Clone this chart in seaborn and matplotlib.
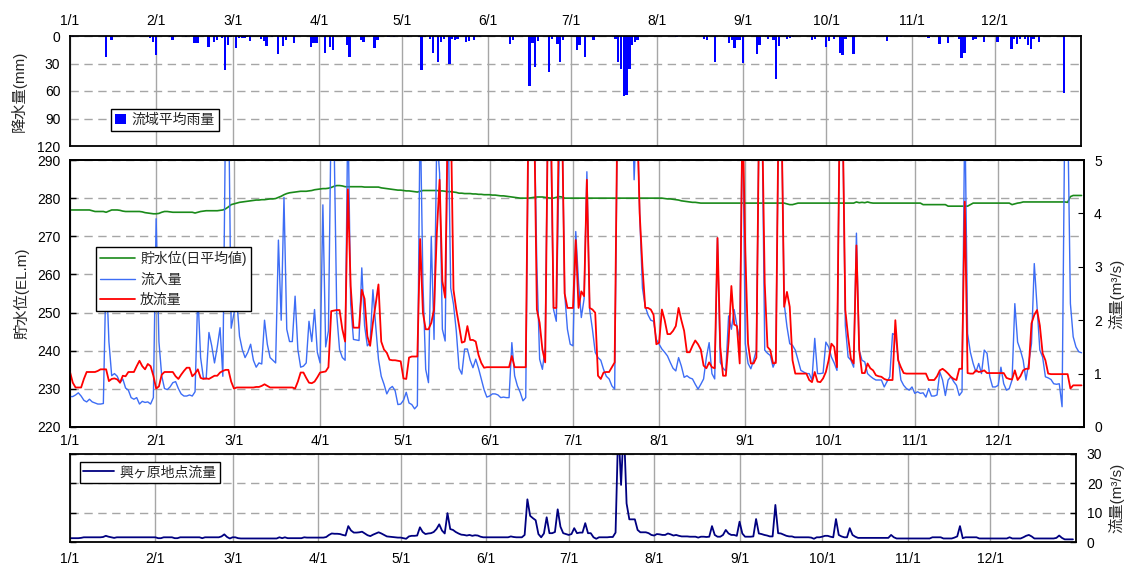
import numpy as np
import pandas as pd
import matplotlib
matplotlib.use("Agg")
import matplotlib.pyplot as plt
import seaborn as sns

sns.set_style("white")
plt.rcParams['font.family'] = ['Liberation Sans', 'Noto Sans CJK JP', 'DejaVu Sans']
plt.rcParams['axes.unicode_minus'] = False

# ---------------- data ----------------
month_starts = [0, 31, 59, 90, 120, 151, 181, 212, 243, 273, 304, 334]
month_labels = ["1/1", "2/1", "3/1", "4/1", "5/1", "6/1", "7/1", "8/1", "9/1", "10/1", "11/1", "12/1"]

# basin average rainfall (mm): day index (0 = 1/1) and amount
rain_days = [1, 13, 15, 29, 30, 31, 36, 37, 42, 45, 46, 50, 52, 53, 55, 56, 57, 58, 60, 61, 62, 63, 64, 65,
             69, 70, 71, 73, 75, 77, 78, 81, 87, 88, 89, 92, 94, 95, 100, 101, 105, 106, 110, 111, 115, 117,
             122, 126, 127, 128, 130, 131, 133, 134, 135, 137, 138, 139, 140, 143, 144, 146, 148, 159, 160,
             166, 167, 168, 169, 173, 174, 176, 177, 178, 183, 184, 186, 187, 189, 197, 198, 199, 200, 201,
             202, 203, 204, 205, 219, 229, 230, 233, 238, 239, 240, 241, 242, 243, 248, 249, 252, 254, 255,
             256, 259, 260, 261, 268, 269, 273, 274, 276, 278, 279, 280, 283, 295, 300, 310, 314, 317, 321,
             322, 323, 326, 327, 330, 335, 340, 341, 342, 343, 345, 346, 347, 348, 350, 359]
rain_mm = [1.5, 23, 4, 2.5, 7, 21, 1.5, 4, 1.5, 8, 8, 12, 7, 4, 2, 37, 10, 1.5, 13, 2, 2, 2, 1, 5,
           3, 5, 11, 1.5, 20, 11, 4, 8, 12, 8, 8, 19, 12, 15, 10, 23, 4, 6, 13, 4, 1.5, 1.5,
           1.5, 1.5, 37, 1.5, 3, 18, 28, 7, 3, 31, 3, 4, 3, 6, 5, 4, 1.5, 9, 4,
           54, 8, 34, 5, 39, 3, 9, 28, 4, 15, 10, 23, 1.5, 4, 3, 28, 36, 65, 64,
           36, 10, 6, 4, 1.5, 3, 4, 28, 8, 4, 13, 4, 4, 29, 20, 10, 3, 4, 47,
           11, 3, 2, 1.5, 4, 3, 12, 5, 3, 18, 21, 3, 20, 5, 1.5, 2, 9, 8, 3,
           24, 18, 4, 3, 7, 6, 14, 3, 9, 3, 3, 10, 14, 3, 6, 62]

nan = np.nan
# reservoir water level, daily mean (EL.m)
water_level = [
    276.9, 276.9, 276.9, 276.9, 276.9, 276.9, 276.9, 276.9, 276.7, 276.5, 276.5, 276.5, 276.5, 276.3, 276.6, 276.9,
    276.9, 276.9, 276.8, 276.6, 276.5, 276.5, 276.5, 276.5, 276.5, 276.5, 276.4, 276.2, 276.1, 276.0, 275.9,
    275.9, 276.0, 276.3, 276.5, 276.5, 276.4, 276.3, 276.3, 276.3, 276.3, 276.3, 276.3, 276.3, 276.3, 276.1, 276.3,
    276.5, 276.6, 276.7, 276.7, 276.7, 276.7, 276.7, 276.8, 276.9, 277.2, 277.7, 278.3,
    nan, 278.7, 278.9, 279.0, 279.1, 279.2, 279.3, 279.4, 279.5, 279.5, 279.6, 279.6, 279.7, 279.8, 279.8, 279.9,
    280.2, 280.5, 280.9, 281.2, 281.4, 281.5, 281.6, 281.7, 281.8, 281.8, 281.8, 281.9, 282.0, 282.2, 282.3,
    282.4, 282.5, 282.5, 282.6, 282.8, 283.1, 283.3, 283.3, 283.2, 283.0, 283.0, 283.0, 283.0, 283.0, 283.0,
    283.0, 282.9, 282.9, 282.9, 282.9, 282.9, 282.9, 282.7, 282.6, 282.5, 282.4, 282.3, 282.2, 282.1, 282.1,
    282.0, 281.9, 281.9, 281.8, 281.7, 281.6, 281.8, 282.0, 282.0, 282.0, 282.0, 282.0, 282.0, 281.9, 281.9, 281.8,
    281.7, 281.7, 281.6, 281.5, 281.3, 281.3, 281.2, 281.2, 281.2, 281.1, 281.1, 281.0, 281.0, 280.9, 280.9,
    280.9, 280.8, 280.8, 280.7, 280.6, 280.6, 280.5, 280.4, 280.3, 280.2, 280.1, 280.0, 280.0, 280.0, 280.0,
    280.1, 280.2, 280.3, 280.3, 280.3, 280.2, 280.1, 280.0, 280.0, 280.2, 280.4, 280.3, 280.0, 280.0, 280.0,
    280.0, 280.0, 280.0, 280.0, 280.0, 280.0, 280.0, 280.0, 280.0, 280.0, 280.0, 280.0, 280.0, 280.0, 280.0, 280.0,
    280.0, 280.0, 280.0, 280.0, 280.0, 280.0, 280.0, 280.0, 280.0, 280.0, 280.0, 280.0, 280.0, 280.0, 280.0,
    280.0, 280.0, 279.9, 279.8, 279.8, 279.7, 279.6, 279.5, 279.3, 279.2, 279.1, 279.0, 278.9, 278.9, 278.8, 278.7,
    278.7, 278.7, 278.7, 278.7, 278.7, 278.7, 278.7, 278.7, 278.7, 278.7, 278.7, 278.7, 278.7, 278.7, 278.7,
    278.7, 278.7, 278.7, 278.7, 278.7, 278.7, 278.7, 278.7, 278.7, 278.7, 278.7, 278.7, 278.7, 278.7, 278.7,
    278.5, 278.3, 278.3, 278.5, 278.7, 278.7, 278.7, 278.7, 278.7, 278.7, 278.7, 278.7, 278.7, 278.7, 278.7,
    278.7, 278.7, 278.7, 278.7, 278.7, 278.7, 278.7, 278.7, 278.7, 278.7, 279.0, 278.8, 278.9, 278.8, 279.0, 278.8,
    278.7, 278.7, 278.7, 278.7, 278.7, 278.7, 278.7, 278.7, 278.7, 278.7, 278.7, 278.7, 278.7, 278.7, 278.7,
    278.7, 278.7, 278.7, 278.3, 278.3, 278.3, 278.3, 278.3, 278.3, 278.3, 278.3, 278.3, 277.9, 277.9, 277.9,
    277.9, 277.9, 277.9, 277.9, 277.9, 278.3, 278.7, 278.7, 278.7, 278.7, 278.7, 278.7, 278.7, 278.7, 278.7,
    278.7, 278.7, 278.7, 278.7, 278.7, 278.3, 278.5, 278.7, 278.8, 279.0, 279.0, 279.0, 279.0, 279.0, 279.0,
    279.0, 279.0, 279.0, 279.0, 279.0, 279.0, 279.0, 279.0, 279.0, 279.0, 278.9, 280.4, 280.7, 280.7, 280.7, 280.7,
]

# inflow (m3/s)
inflow = [
    0.57, 0.57, 0.60, 0.64, 0.58, 0.50, 0.47, 0.52, 0.47, 0.45, 0.43, 0.43, 0.44, 3.00, 1.60, 0.96,
    1.00, 0.95, 0.83, 0.90, 0.73, 0.69, 0.55, 0.52, 0.55, 0.43, 0.48, 0.46, 0.47, 0.43, 0.55,
    3.90, 1.60, 0.96, 0.72, 0.70, 0.75, 0.83, 0.85, 0.72, 0.62, 0.58, 0.58, 0.60, 0.58, 0.66, 2.50,
    1.30, 0.92, 0.90, 1.77, 1.52, 1.20, 1.50, 1.86, 0.95, 6.00, 6.50, 1.85,
    nan, 2.40, 1.70, 1.45, 1.30, 1.40, 1.55, 1.25, 1.12, 1.20, 1.18, 2.00, 1.55, 1.30, 1.25, 1.20,
    3.50, 2.00, 4.30, 1.83, 1.60, 1.60, 2.45, 1.45, 1.12, 1.14, 1.20, 1.98, 1.60, 2.20, 1.40,
    1.20, 4.16, 1.50, 1.80, 6.00, 5.50, 2.10, 1.45, 1.30, 1.25, 6.00, 2.30, 1.64, 1.63, 1.62,
    2.98, 1.90, 1.52, 1.58, 2.57, 1.90, 1.27, 0.95, 0.80, 0.62, 0.72, 0.76, 0.68, 0.42, 0.43,
    0.50, 0.65, 0.45, 0.42, 0.34, 0.40, 6.00, 2.70, 1.08, 0.83, 3.57, 1.64, 5.50, 4.75, 1.83, 1.61,
    6.00, 2.60, 2.30, 1.80, 1.10, 0.99, 1.46, 1.46, 1.25, 1.11, 1.27, 1.10, 0.90, 0.70, 0.56,
    0.58, 0.62, 0.62, 0.60, 0.55, 0.56, 0.55, 0.55, 1.58, 0.96, 0.77, 0.65, 0.49, 0.55, 6.00,
    7.00, 6.00, 3.00, 1.27, 1.08, 1.50, 6.00, 5.50, 2.20, 1.98, 5.00, 6.00, 2.51, 1.83, 1.55,
    1.52, 3.66, 2.70, 2.05, 2.40, 4.78, 2.20, 1.83, 1.40, 1.30, 1.25, 1.08, 0.95, 0.90, 0.77, 0.71,
    6.00, 7.00, 8.00, 8.00, 8.00, 7.00, 4.63, 6.00, 4.00, 2.60, 2.26, 2.10, 2.00, 1.98, 1.64,
    1.55, 1.46, 1.40, 1.33, 1.21, 1.10, 1.05, 1.30, 1.14, 0.93, 0.96, 0.92, 0.90, 0.80, 0.71, 0.80,
    0.90, 1.30, 1.58, 1.00, 0.90, 3.54, 1.21, 1.10, 1.05, 2.08, 1.83, 2.20, 1.89, 1.64, 6.00,
    1.56, 1.19, 1.09, 1.25, 1.44, 6.00, 6.00, 1.44, 1.38, 1.34, 1.12, 1.25, 6.00, 6.00, 2.31,
    1.88, 1.56, 1.53, 1.44, 1.25, 1.06, 1.03, 1.00, 1.00, 0.88, 1.66, 1.00, 1.00, 1.01, 1.59,
    1.50, 1.31, 1.20, 1.06, 6.00, 6.00, 1.90, 1.31, 1.25, 1.12, 3.63, 1.44, 1.25, 1.22, 1.00, 0.95,
    0.91, 0.88, 0.88, 0.88, 0.75, 0.85, 0.94, 1.75, 1.72, 1.31, 0.88, 0.78, 0.72, 0.69, 0.75,
    0.63, 0.66, 0.63, 0.64, 0.56, 0.72, 0.58, 0.58, 0.60, 1.03, 0.88, 0.59, 0.88, 0.94, 0.85,
    0.78, 0.59, 0.66, 6.00, 1.75, 1.40, 1.19, 1.03, 1.19, 1.00, 1.44, 1.38, 0.94, 0.75, 0.75,
    0.78, 1.12, 0.81, 0.69, 0.72, 0.88, 2.31, 1.59, 1.44, 1.25, 0.88, 1.20, 1.56, 3.06, 2.25, 1.44,
    1.31, 0.94, 0.92, 0.89, 0.81, 0.80, 0.81, 0.38, 6.00, 6.00, 2.31, 1.69, 1.50, 1.41, 1.39,
]

# release discharge (m3/s)
outflow = [
    1.03, 0.83, 0.74, 0.74, 0.74, 0.90, 1.03, 1.03, 1.03, 1.03, 1.05, 1.08, 1.08, 1.08, 0.86, 0.90,
    0.91, 0.89, 0.83, 0.96, 0.95, 1.03, 1.03, 1.03, 1.14, 1.24, 1.14, 1.08, 1.18, 1.14, 0.96,
    0.72, 0.76, 0.98, 1.03, 1.03, 1.03, 1.03, 0.95, 0.90, 0.98, 1.05, 1.11, 1.11, 0.95, 1.00, 1.08,
    0.92, 0.90, 0.91, 0.90, 0.93, 0.96, 0.96, 1.02, 1.05, 1.07, 1.07, 0.85,
    0.72, 0.74, 0.74, 0.74, 0.74, 0.74, 0.74, 0.74, 0.75, 0.75, 0.77, 0.80, 0.77, 0.74, 0.74, 0.74,
    0.74, 0.74, 0.74, 0.74, 0.74, 0.74, 0.72, 0.85, 1.02, 1.02, 0.92, 0.83, 0.82, 0.85, 0.93,
    1.02, 1.03, 1.04, 1.12, 2.17, 2.18, 2.19, 2.19, 1.83, 1.60, 4.45, 2.64, 1.86, 1.86, 1.86,
    2.57, 2.40, 1.70, 1.52, 1.95, 2.30, 2.67, 1.60, 1.45, 1.39, 1.26, 1.25, 1.25, 1.24, 1.23,
    0.91, 0.90, 1.30, 1.32, 1.32, 1.32, 3.52, 2.14, 1.83, 1.83, 1.95, 2.20, 3.63, 4.63, 2.73, 2.42,
    6.00, 6.00, 2.57, 2.20, 1.90, 1.58, 1.60, 1.89, 1.63, 1.63, 1.60, 1.35, 1.20, 1.11, 1.12,
    1.12, 1.12, 1.12, 1.12, 1.12, 1.12, 1.12, 1.12, 1.33, 1.12, 1.12, 1.12, 1.12, 1.12, 6.00,
    7.00, 6.00, 2.20, 1.95, 1.45, 1.21, 6.00, 6.00, 2.23, 2.23, 6.00, 6.00, 2.50, 2.23, 2.23,
    2.23, 3.50, 2.23, 2.54, 2.45, 4.63, 2.23, 2.20, 2.14, 0.96, 0.90, 1.02, 1.03, 1.03, 1.12, 1.21,
    6.00, 7.00, 8.00, 8.00, 8.00, 7.00, 6.00, 6.00, 4.00, 3.00, 2.23, 2.23, 2.20, 2.10, 1.55,
    1.58, 2.20, 2.00, 1.74, 1.74, 1.80, 1.89, 2.23, 2.00, 1.80, 1.40, 1.40, 1.52, 1.62, 1.55, 1.45,
    1.15, 1.10, 1.21, 1.12, 1.10, 3.54, 1.50, 0.96, 0.96, 1.60, 2.64, 1.92, 1.89, 1.19, 6.00,
    3.30, 1.56, 1.19, 1.19, 1.30, 6.00, 6.00, 2.69, 1.50, 1.44, 1.19, 1.20, 6.00, 6.00, 2.25,
    2.53, 2.25, 1.25, 1.00, 1.00, 1.00, 1.00, 1.00, 0.88, 0.84, 1.03, 0.85, 0.84, 0.91, 1.03,
    1.25, 1.56, 1.50, 1.12, 6.00, 6.00, 2.19, 1.69, 1.28, 1.19, 3.40, 1.44, 1.01, 1.01, 1.19, 1.10,
    1.06, 0.97, 0.95, 0.94, 0.90, 0.88, 0.88, 0.88, 2.00, 1.25, 1.12, 1.01, 1.00, 1.00, 1.00,
    1.00, 1.00, 1.00, 1.00, 1.00, 0.88, 0.88, 0.88, 0.95, 1.06, 1.09, 1.05, 1.00, 0.94, 0.90,
    0.88, 1.09, 1.09, 4.22, 1.01, 1.00, 1.00, 1.06, 1.03, 1.04, 1.06, 1.01, 1.01, 1.01, 1.01,
    1.01, 1.01, 1.01, 0.92, 0.90, 0.89, 1.06, 0.88, 0.95, 1.06, 1.09, 1.09, 1.94, 2.10, 2.19, 1.90,
    1.38, 1.25, 1.00, 0.99, 0.99, 0.99, 0.99, 0.99, 0.99, 0.99, 0.72, 0.78, 0.78, 0.78, 0.78,
]

# discharge at Okigahara gauge (m3/s)
okigahara = [
    1.4, 1.4, 1.4, 1.4, 1.5, 1.7, 1.7, 1.7, 1.7, 1.7, 1.7, 1.7, 1.8, 2.2, 1.9, 1.7,
    1.5, 1.7, 1.7, 1.7, 1.7, 1.7, 1.7, 1.7, 1.7, 1.7, 1.7, 1.7, 1.7, 1.7, 1.7,
    1.7, 1.4, 1.4, 1.7, 1.7, 1.7, 1.7, 1.4, 1.4, 1.7, 1.7, 1.7, 1.7, 1.7,
    1.7, 1.7, 1.7, 1.4, 1.7, 1.7, 1.7, 1.7, 1.7, 1.7, 2.0, 2.7, 1.8, 1.3,
    1.7, 1.7, 1.4, 1.3, 1.3, 1.3, 1.3, 1.3, 1.3, 1.3, 1.3, 1.3, 1.3, 1.3, 1.3, 1.3,
    1.3, 1.7, 1.4, 1.7, 1.4, 1.4, 1.4, 1.4, 1.4, 1.4, 1.7, 1.6, 1.6, 1.6, 1.6,
    1.6, 1.6, 1.6, 1.8, 2.5, 3.0, 2.9, 2.9, 2.8, 2.5, 2.3, 5.5, 4.0, 3.3, 3.3,
    3.4, 3.6, 3.0, 2.4, 2.1, 2.6, 3.0, 3.4, 3.0, 2.5, 2.0, 1.9, 1.8, 1.7, 1.6,
    1.6, 1.4, 1.2, 2.0, 2.2, 2.2, 2.3, 5.1, 3.5, 2.8, 3.0, 3.1, 3.5, 4.5, 6.1, 4.0,
    3.0, 9.9, 4.5, 4.2, 3.5, 3.0, 2.6, 2.5, 2.3, 2.5, 2.2, 2.4, 2.3, 1.9, 1.7,
    1.7, 1.7, 1.7, 1.7, 1.7, 1.7, 1.7, 1.7, 1.7, 2.0, 1.8, 1.7, 1.7, 1.7, 2.5,
    14.6, 9.0, 8.2, 7.5, 2.8, 1.7, 3.0, 8.5, 3.1, 3.1, 3.5, 11.2, 5.3, 3.1, 2.8,
    2.5, 2.8, 4.8, 3.1, 3.3, 3.3, 6.5, 3.1, 3.1, 1.7, 1.2, 1.7, 1.7, 1.7, 1.7, 1.8,
    1.8, 3.3, 40.0, 19.5, 40.0, 13.2, 7.8, 7.8, 7.8, 4.2, 3.4, 3.4, 3.4, 3.1, 2.5,
    2.3, 2.8, 2.7, 2.5, 2.5, 3.0, 2.7, 2.3, 2.5, 2.2, 2.0, 2.0, 2.0, 1.9, 1.9, 1.9,
    1.6, 1.9, 1.9, 1.8, 1.9, 5.5, 2.5, 1.9, 1.9, 2.5, 4.2, 3.0, 2.5, 2.5, 2.2,
    7.0, 3.0, 1.9, 1.9, 1.9, 2.0, 7.9, 3.0, 2.8, 2.5, 2.3, 2.0, 2.0, 12.7, 3.1,
    3.0, 2.6, 2.2, 2.0, 2.0, 1.7, 1.7, 1.7, 1.7, 1.7, 1.7, 1.6, 1.2, 1.7, 1.7,
    1.9, 2.2, 2.2, 1.9, 1.7, 7.9, 2.5, 2.0, 1.7, 1.7, 4.8, 2.5, 1.9, 1.5, 1.5, 1.5,
    1.5, 1.5, 1.5, 1.5, 1.5, 1.5, 1.5, 1.5, 1.5, 2.5, 1.7, 1.3, 1.3, 1.3, 1.3,
    1.3, 1.3, 1.3, 1.3, 1.3, 1.3, 1.3, 1.3, 1.3, 1.7, 1.7, 1.7, 1.7, 1.3, 1.3,
    1.3, 1.3, 1.6, 2.0, 5.5, 1.4, 1.7, 1.7, 1.7, 1.7, 1.7, 1.3, 1.3, 1.3, 1.3,
    1.3, 1.3, 1.3, 1.3, 1.3, 1.3, 1.3, 1.7, 1.3, 1.3, 1.3, 1.3, 1.7, 2.2, 2.5, 2.0,
    1.3, 1.3, 1.3, 1.3, 1.3, 1.3, 1.3, 1.3, 1.5, 2.3, 1.5, 1.0, 1.0, 1.0, 1.0,
]

n_days = 365
days = np.arange(n_days)
rain = np.zeros(n_days)
rain[rain_days] = rain_mm

df = pd.DataFrame({"day": days, "rain": rain, "wl": water_level, "inflow": inflow,
                   "outflow": outflow, "oki": okigahara})

# ---------------- styling helpers ----------------
GRID = "#a6a6a6"
FS = 10
LFS = 11


def style_common(ax):
    ax.set_xlim(0, n_days)
    ax.set_xticks(month_starts)
    ax.set_xticklabels(month_labels)
    ax.grid(True, axis="x", color=GRID, linewidth=1.0, linestyle="-")
    ax.grid(True, axis="y", color=GRID, linewidth=1.0, linestyle=(0, (6, 4)))
    ax.set_axisbelow(True)
    for s in ax.spines.values():
        s.set_color("black")
        s.set_linewidth(1.3)
    ax.tick_params(axis="both", which="both", direction="in", length=4, labelsize=FS,
                   colors="black", width=1)
    ax.set_xlabel("")


fig = plt.figure(figsize=(11.3, 5.7), dpi=100)

# ---------------- top: rainfall ----------------
ax_r = fig.add_axes([70 / 1130, (570 - 146) / 570, 1010.7 / 1130, 110 / 570])
sns.barplot(data=df, x="day", y="rain", native_scale=True, orient="x", color="#0000ff",
            saturation=1, width=0.85, errorbar=None, linewidth=0, ax=ax_r, label="流域平均雨量")
style_common(ax_r)
ax_r.set_ylim(120, 0)
ax_r.set_yticks([0, 30, 60, 90, 120])
ax_r.xaxis.tick_top()
ax_r.tick_params(axis="x", pad=6, length=0)
ax_r.tick_params(axis="y", pad=7)
ax_r.set_ylabel("降水量(mm)", fontsize=LFS)
ax_r.yaxis.set_label_coords(-0.043, 0.5)
h, l = ax_r.get_legend_handles_labels()
if ax_r.get_legend() is not None:
    ax_r.get_legend().remove()
leg = ax_r.legend(h[:1], l[:1], loc="upper left", bbox_to_anchor=(0.0406, 0.336), borderaxespad=0,
                  fontsize=FS, frameon=True, fancybox=False, edgecolor="black", framealpha=1,
                  handlelength=0.75, handleheight=0.75, handletextpad=0.4, borderpad=0.3)
leg.get_frame().set_linewidth(1.0)

# ---------------- middle: water level & flows ----------------
ax_m = fig.add_axes([70 / 1130, (570 - 427) / 570, 1014.3 / 1130, 267 / 570])
sns.lineplot(data=df, x="day", y="wl", ax=ax_m, color="#1a8a1a", linewidth=1.2,
             estimator=None, label="貯水位(日平均値)")
style_common(ax_m)
ax_m.set_ylim(220, 290)
ax_m.set_yticks(range(220, 291, 10))
ax_m.tick_params(axis="x", pad=5, length=0)
ax_m.tick_params(axis="y", pad=7)
ax_m.set_ylabel("貯水位(EL.m)", fontsize=LFS)
ax_m.yaxis.set_label_coords(-0.040, 0.5)

ax_m2 = ax_m.twinx()
sns.lineplot(data=df, x="day", y="inflow", ax=ax_m2, color="#3d6df5", linewidth=1.0,
             estimator=None, label="流入量")
sns.lineplot(data=df, x="day", y="outflow", ax=ax_m2, color="#ff0000", linewidth=1.3,
             estimator=None, label="放流量")
ax_m2.set_xlim(0, n_days)
ax_m2.set_ylim(0, 5)
ax_m2.set_yticks(range(0, 6))
ax_m2.grid(False)
for s in ax_m2.spines.values():
    s.set_color("black")
    s.set_linewidth(1.3)
ax_m2.tick_params(axis="y", direction="in", length=4, labelsize=FS, colors="black", pad=7)
ax_m2.set_ylabel("流量(m³/s)", fontsize=LFS)
ax_m2.yaxis.set_label_coords(1.024, 0.5)
ax_m2.set_xlabel("")

h1, l1 = ax_m.get_legend_handles_labels()
h2, l2 = ax_m2.get_legend_handles_labels()
for a in (ax_m, ax_m2):
    if a.get_legend() is not None:
        a.get_legend().remove()
leg = ax_m2.legend(h1 + h2, l1 + l2, loc="upper left", bbox_to_anchor=(0.0253, 0.674),
                   borderaxespad=0, fontsize=FS, frameon=True, fancybox=False, edgecolor="black",
                   framealpha=1, handlelength=2.5, handletextpad=0.4, borderpad=0.3, labelspacing=0.45)
leg.get_frame().set_linewidth(1.0)

# ---------------- bottom: Okigahara discharge ----------------
ax_b = fig.add_axes([70 / 1130, (570 - 542.3) / 570, 1005.7 / 1130, 88.3 / 570])
sns.lineplot(data=df, x="day", y="oki", ax=ax_b, color="#000080", linewidth=1.3,
             estimator=None, label="興ヶ原地点流量")
style_common(ax_b)
ax_b.set_ylim(0, 30)
ax_b.set_yticks([0, 10, 20, 30])
ax_b.tick_params(axis="y", left=True, right=True, labelleft=False, labelright=True, pad=8)
ax_b.tick_params(axis="x", pad=7, length=0)
ax_b.yaxis.set_label_position("right")
ax_b.set_ylabel("流量(m³/s)", fontsize=LFS)
ax_b.yaxis.set_label_coords(1.033, 0.5)
h, l = ax_b.get_legend_handles_labels()
if ax_b.get_legend() is not None:
    ax_b.get_legend().remove()
leg = ax_b.legend(h, l, loc="upper left", bbox_to_anchor=(0.0099, 0.913), borderaxespad=0,
                  fontsize=FS, frameon=True, fancybox=False, edgecolor="black", framealpha=1,
                  handlelength=2.2, handletextpad=0.4, borderpad=0.25)
leg.get_frame().set_linewidth(1.0)

fig.savefig("out.png", dpi=100)
